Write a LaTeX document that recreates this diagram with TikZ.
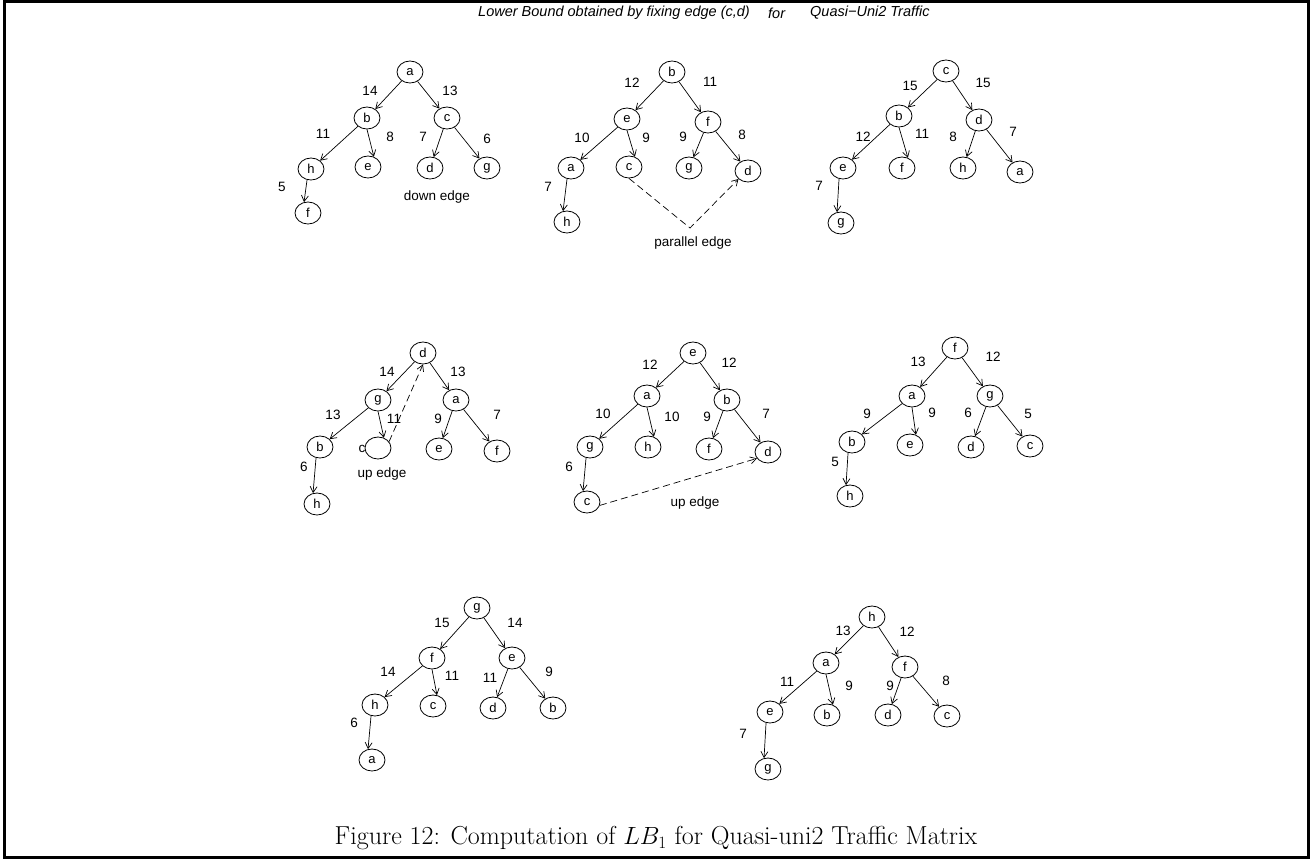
\documentclass[tikz,border=0pt]{standalone}
\usepackage{fontspec}
\usepackage{tikz}
\usetikzlibrary{arrows.meta,shapes.geometric}
\newfontfamily\helv{Liberation Sans}
\tikzset{
  vtx/.style={draw,ellipse,minimum width=26pt,minimum height=22pt,inner sep=0pt,line width=0.8pt,font=\helv\fontsize{13}{13}\selectfont},
  arr/.style={-{Straight Barb[length=6pt,width=7pt]},line width=0.7pt},
  back/.style={arr,dash pattern=on 7pt off 4pt},
  wt/.style={inner sep=0pt,font=\helv\fontsize{13.5}{14}\selectfont},
  ttl/.style={inner sep=0pt,anchor=west,font=\helv\itshape\fontsize{14.5}{15}\selectfont}
}
\begin{document}
\begin{tikzpicture}[x=1pt,y=-1pt]
\useasboundingbox (0,0) rectangle (1312,860);
\draw[line width=3pt] (4.5,1.5) rectangle (1308.5,857.5);

% title
\node[ttl] (ttlA) at (478,13) {Lower Bound obtained by fixing edge (c,d)};
\node[ttl] (ttlB) at (768,13) {for};
\node[ttl] (ttlC) at (810,13) {Quasi−Uni2 Traffic};

% tree rooted at a
\node[vtx] (tAa) at (410,72) {a};
\node[vtx] (tAb) at (367,118) {b};
\node[vtx] (tAc) at (447,118) {c};
\node[vtx] (tAh) at (311,169) {h};
\node[vtx] (tAe) at (368,167) {e};
\node[vtx] (tAd) at (430,168) {d};
\node[vtx] (tAg) at (487,168) {g};
\node[vtx] (tAf) at (308,213) {f};
\draw[arr] (tAa) -- (tAb);
\draw[arr] (tAa) -- (tAc);
\draw[arr] (tAb) -- (tAh);
\draw[arr] (tAb.south) -- (tAe.60);
\draw[arr] (tAc) -- (tAd);
\draw[arr] (tAc) -- (tAg);
\draw[arr] (tAh.250) -- (tAf.110);
\node[wt] (wAab) at (370,91) {14};
\node[wt] (wAac) at (450,91) {13};
\node[wt] (wAbh) at (323,134) {11};
\node[wt] (wAbe) at (390,137) {8};
\node[wt] (wAcd) at (423,137) {7};
\node[wt] (wAcg) at (487,139) {6};
\node[wt] (wAhf) at (282,187) {5};
\node[wt] (lblA) at (437,197) {down edge};

% tree rooted at b
\node[vtx] (tBb) at (672,72) {b};
\node[vtx] (tBe) at (627,119) {e};
\node[vtx] (tBf) at (708,122) {f};
\node[vtx] (tBa) at (571,168) {a};
\node[vtx] (tBc) at (629,167) {c};
\node[vtx] (tBg) at (689,168) {g};
\node[vtx] (tBd) at (748,171) {d};
\node[vtx] (tBh) at (567,222) {h};
\draw[arr] (tBb) -- (tBe);
\draw[arr] (tBb) -- (tBf);
\draw[arr] (tBe) -- (tBa);
\draw[arr] (tBe.south) -- (tBc.60);
\draw[arr] (tBf) -- (tBg);
\draw[arr] (tBf) -- (tBd);
\draw[arr] (tBa.250) -- (tBh.110);
\coordinate (dipB) at (690,228);
\draw[back] (tBc.south) -- (dipB) -- (tBd.220);
\node[wt] (wBbe) at (632,83) {12};
\node[wt] (wBbf) at (710,82) {11};
\node[wt] (wBea) at (582,138) {10};
\node[wt] (wBec) at (646,138) {9};
\node[wt] (wBfg) at (683,137) {9};
\node[wt] (wBfd) at (742,135) {8};
\node[wt] (wBah) at (548,187) {7};
\node[wt] (lblB) at (693,243) {parallel edge};

% tree rooted at c
\node[vtx] (tCc) at (946,71) {c};
\node[vtx] (tCb) at (899,116) {b};
\node[vtx] (tCd) at (979,120) {d};
\node[vtx] (tCe) at (843,168) {e};
\node[vtx] (tCf) at (902,168) {f};
\node[vtx] (tCh) at (963,168) {h};
\node[vtx] (tCa) at (1020,172) {a};
\node[vtx] (tCg) at (841,223) {g};
\draw[arr] (tCc) -- (tCb);
\draw[arr] (tCc) -- (tCd);
\draw[arr] (tCb) -- (tCe);
\draw[arr] (tCb.south) -- (tCf.60);
\draw[arr] (tCd) -- (tCh);
\draw[arr] (tCd) -- (tCa);
\draw[arr] (tCe.250) -- (tCg.110);
\node[wt] (wCcb) at (910,86) {15};
\node[wt] (wCcd) at (983,83) {15};
\node[wt] (wCbe) at (863,137) {12};
\node[wt] (wCbf) at (922,134) {11};
\node[wt] (wCdh) at (953,137) {8};
\node[wt] (wCda) at (1013,132) {7};
\node[wt] (wCeg) at (819,186) {7};

% tree rooted at d
\node[vtx] (tDd) at (423,353) {d};
\node[vtx] (tDg) at (378,400) {g};
\node[vtx] (tDa) at (456,400) {a};
\node[vtx] (tDb) at (320,447) {b};
\node[vtx] (tDc) at (378,448) {};
\node[wt] (tDcl) at (362,449) {c};
\node[vtx] (tDe) at (439,449) {e};
\node[vtx] (tDf) at (497,451) {f};
\node[vtx] (tDh) at (317,504) {h};
\draw[arr] (tDd) -- (tDg);
\draw[arr] (tDd) -- (tDa);
\draw[arr] (tDg) -- (tDb);
\draw[arr] (tDg.south) -- (tDc.60);
\draw[arr] (tDa) -- (tDe);
\draw[arr] (tDa) -- (tDf);
\draw[arr] (tDb.250) -- (tDh.110);
\draw[back] (tDc.30) -- (tDd.south);
\node[wt] (wDdg) at (387,372) {14};
\node[wt] (wDda) at (458,372) {13};
\node[wt] (wDgb) at (333,415) {13};
\node[wt] (wDgc) at (394,419) {11};
\node[wt] (wDae) at (438,419) {9};
\node[wt] (wDaf) at (497,415) {7};
\node[wt] (wDbh) at (304,467) {6};
\node[wt] (lblD) at (382,474) {up edge};

% tree rooted at e
\node[vtx] (tEe) at (693,353) {e};
\node[vtx] (tEa) at (647,396) {a};
\node[vtx] (tEb) at (727,400) {b};
\node[vtx] (tEg) at (590,447) {g};
\node[vtx] (tEh) at (648,447) {h};
\node[vtx] (tEf) at (709,449) {f};
\node[vtx] (tEd) at (768,452) {d};
\node[vtx] (tEc) at (587,502) {c};
\draw[arr] (tEe) -- (tEa);
\draw[arr] (tEe) -- (tEb);
\draw[arr] (tEa) -- (tEg);
\draw[arr] (tEa.south) -- (tEh.60);
\draw[arr] (tEb) -- (tEf);
\draw[arr] (tEb) -- (tEd);
\draw[arr] (tEg.250) -- (tEc.110);
\draw[back] (tEc.-15) -- (tEd.210);
\node[wt] (wEea) at (650,365) {12};
\node[wt] (wEeb) at (729,363) {12};
\node[wt] (wEag) at (603,414) {10};
\node[wt] (wEah) at (672,417) {10};
\node[wt] (wEbf) at (707,417) {9};
\node[wt] (wEbd) at (766,414) {7};
\node[wt] (wEgc) at (569,467) {6};
\node[wt] (lblE) at (695,503) {up edge};

% tree rooted at f
\node[vtx] (tFf) at (955,348) {f};
\node[vtx] (tFa) at (912,396) {a};
\node[vtx] (tFg) at (990,396) {g};
\node[vtx] (tFb) at (852,442) {b};
\node[vtx] (tFe) at (910,445) {e};
\node[vtx] (tFd) at (971,447) {d};
\node[vtx] (tFc) at (1030,446) {c};
\node[vtx] (tFh) at (850,496) {h};
\draw[arr] (tFf) -- (tFa);
\draw[arr] (tFf) -- (tFg);
\draw[arr] (tFa) -- (tFb);
\draw[arr] (tFa.south) -- (tFe.60);
\draw[arr] (tFg) -- (tFd);
\draw[arr] (tFg) -- (tFc);
\draw[arr] (tFb.250) -- (tFh.110);
\node[wt] (wFfa) at (918,362) {13};
\node[wt] (wFfg) at (993,357) {12};
\node[wt] (wFab) at (867,414) {9};
\node[wt] (wFae) at (932,413) {9};
\node[wt] (wFgd) at (968,413) {6};
\node[wt] (wFgc) at (1028,414) {5};
\node[wt] (wFbh) at (835,462) {5};

% tree rooted at g
\node[vtx] (tGg) at (477,608) {g};
\node[vtx] (tGf) at (432,658) {f};
\node[vtx] (tGe) at (512,658) {e};
\node[vtx] (tGh) at (375,705) {h};
\node[vtx] (tGc) at (433,706) {c};
\node[vtx] (tGd) at (493,708) {d};
\node[vtx] (tGb) at (553,708) {b};
\node[vtx] (tGa) at (372,760) {a};
\draw[arr] (tGg) -- (tGf);
\draw[arr] (tGg) -- (tGe);
\draw[arr] (tGf) -- (tGh);
\draw[arr] (tGf.south) -- (tGc.70);
\draw[arr] (tGe) -- (tGd);
\draw[arr] (tGe) -- (tGb);
\draw[arr] (tGh.250) -- (tGa.110);
\node[wt] (wGgf) at (442,623) {15};
\node[wt] (wGge) at (515,623) {14};
\node[wt] (wGfh) at (388,672) {14};
\node[wt] (wGfc) at (452,676) {11};
\node[wt] (wGed) at (490,678) {11};
\node[wt] (wGeb) at (549,672) {9};
\node[wt] (wGha) at (354,723) {6};

% tree rooted at h
\node[vtx] (tHh) at (872,617) {h};
\node[vtx] (tHa) at (826,663) {a};
\node[vtx] (tHf) at (905,667) {f};
\node[vtx] (tHe) at (770,712) {e};
\node[vtx] (tHb) at (827,715) {b};
\node[vtx] (tHd) at (888,715) {d};
\node[vtx] (tHc) at (947,716) {c};
\node[vtx] (tHg) at (768,769) {g};
\draw[arr] (tHh) -- (tHa);
\draw[arr] (tHh) -- (tHf);
\draw[arr] (tHa) -- (tHe);
\draw[arr] (tHa.south) -- (tHb.60);
\draw[arr] (tHf) -- (tHd);
\draw[arr] (tHf) -- (tHc);
\draw[arr] (tHe.250) -- (tHg.110);
\node[wt] (wHha) at (843,631) {13};
\node[wt] (wHhf) at (907,632) {12};
\node[wt] (wHae) at (787,682) {11};
\node[wt] (wHab) at (849,686) {9};
\node[wt] (wHfd) at (890,686) {9};
\node[wt] (wHfc) at (946,681) {8};
\node[wt] (wHeg) at (743,734) {7};

% caption
\node[inner sep=0pt,font=\fontsize{26}{30}\selectfont] (cap) at (656,838) {Figure 12: Computation of $LB_1$ for Quasi-uni2 Traffic Matrix};
\end{tikzpicture}
\end{document}
